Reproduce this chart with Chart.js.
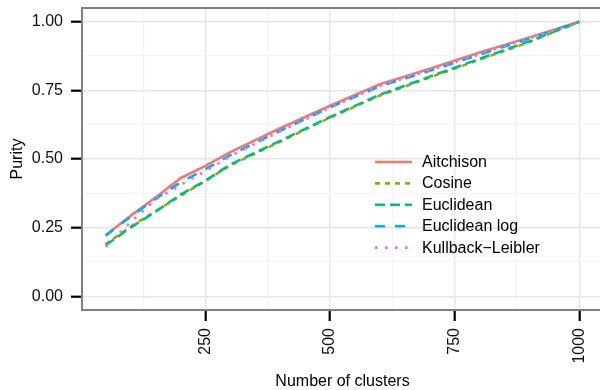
<!DOCTYPE html>
<html>
<head>
<meta charset="utf-8">
<script src="https://cdn.jsdelivr.net/npm/chart.js@4/dist/chart.umd.min.js"></script>
<style>
  html, body { margin: 0; padding: 0; background: #fff; overflow: hidden; width: 600px; height: 390px; }
  canvas { display: block; }
</style>
</head>
<body>
<canvas id="chart" width="604" height="390"></canvas>
<script>
// data
const clusters = [50, 100, 150, 200, 250, 300, 400, 500, 600, 700, 800, 900, 1000];
const aitchison = [0.222, 0.293, 0.360, 0.430, 0.475, 0.525, 0.612, 0.694, 0.772, 0.829, 0.888, 0.943, 1.0];
const cosine = [0.190, 0.254, 0.310, 0.366, 0.420, 0.477, 0.563, 0.651, 0.731, 0.797, 0.862, 0.926, 1.0];
const euclidean = [0.186, 0.250, 0.308, 0.370, 0.421, 0.480, 0.566, 0.653, 0.734, 0.800, 0.865, 0.929, 1.0];
const euclidean_log = [0.221, 0.290, 0.355, 0.415, 0.463, 0.514, 0.603, 0.688, 0.765, 0.821, 0.880, 0.939, 1.0];
const kullback_leibler = [0.180, 0.270, 0.352, 0.405, 0.456, 0.510, 0.601, 0.687, 0.767, 0.823, 0.882, 0.940, 1.0];

const x_ticks = [250, 500, 750, 1000];
const x_minor = [125, 375, 625, 875];
const y_ticks = [0, 0.25, 0.5, 0.75, 1];
const y_minor = [0.125, 0.375, 0.625, 0.875];

const font_family = "'Liberation Sans', Arial, sans-serif";
const line_w = 2.6;

const series = [
    { label: "Aitchison", values: aitchison, color: "#F8766D", dash: [] },
    { label: "Cosine", values: cosine, color: "#A3A500", dash: [5, 5] },
    { label: "Euclidean", values: euclidean, color: "#00BF7D", dash: [10, 5] },
    { label: "Euclidean log", values: euclidean_log, color: "#00B0F6", dash: [10, 10] },
    { label: "Kullback\u2212Leibler", values: kullback_leibler, color: "#E76BF3", dash: [2.6, 7.4] }
];

const datasets = series.map((s, i) => ({
    label: s.label,
    data: clusters.map((c, j) => ({ x: c, y: s.values[j] })),
    borderColor: s.color,
    borderWidth: line_w,
    borderDash: s.dash,
    borderCapStyle: "butt",
    pointRadius: 0,
    tension: 0,
    fill: false,
    order: series.length - i
}));

const is_major_x = (v) => x_ticks.includes(v);
const is_major_y = (v) => y_ticks.some((t) => Math.abs(t - v) < 1e-9);

// top border of the panel and the legend inside it
const panel_extras = {
    id: "panel_extras",
    afterDraw(chart) {
        const ctx = chart.ctx;
        const area = chart.chartArea;
        ctx.save();
        ctx.strokeStyle = "#808080";
        ctx.lineWidth = 2;
        ctx.beginPath();
        ctx.moveTo(area.left - 1, area.top);
        ctx.lineTo(area.right + 2, area.top);
        ctx.stroke();

        const lx = 375, lw = 37, tx = 422, ly = 162, step = 21.4;
        ctx.font = "16px " + font_family;
        ctx.textBaseline = "middle";
        ctx.fillStyle = "#000";
        series.forEach((s, i) => {
            const y = ly + i * step;
            ctx.strokeStyle = s.color;
            ctx.lineWidth = line_w;
            ctx.lineCap = "butt";
            ctx.setLineDash(s.dash);
            ctx.beginPath();
            ctx.moveTo(lx, y);
            ctx.lineTo(lx + lw, y);
            ctx.stroke();
            ctx.setLineDash([]);
            ctx.fillText(s.label, tx, y + 0.5);
        });
        ctx.restore();
    }
};

const no_padding = (scale) => {
    scale.paddingTop = 0;
    scale.paddingBottom = 0;
    scale.paddingLeft = 0;
    scale.paddingRight = 0;
};

new Chart(document.getElementById("chart"), {
    type: "line",
    data: { datasets: datasets },
    plugins: [panel_extras],
    options: {
        responsive: false,
        animation: false,
        layout: { padding: { left: 0, top: 8, right: 1, bottom: 0 } },
        plugins: { legend: { display: false }, tooltip: { enabled: false } },
        scales: {
            x: {
                type: "linear",
                min: 2.5,
                max: 1047.5,
                afterFit: (scale) => { scale.height = 80; no_padding(scale); },
                afterBuildTicks: (scale) => {
                    scale.ticks = x_minor.concat(x_ticks).sort((a, b) => a - b).map((v) => ({ value: v }));
                },
                ticks: {
                    autoSkip: false,
                    minRotation: 90,
                    maxRotation: 90,
                    padding: 7,
                    color: "#111",
                    font: { family: font_family, size: 16 },
                    callback: (v) => (is_major_x(v) ? String(v) : "")
                },
                grid: {
                    color: (c) => (is_major_x(c.tick.value) ? "#E6E6E6" : "#F4F4F4"),
                    lineWidth: (c) => (is_major_x(c.tick.value) ? 1.4 : 1.1),
                    tickColor: (c) => (is_major_x(c.tick.value) ? "#000" : "rgba(0,0,0,0)"),
                    tickWidth: 2.2,
                    tickLength: 11
                },
                border: { color: "#808080", width: 2 },
                title: {
                    display: true,
                    text: "Number of clusters",
                    color: "#000",
                    font: { family: font_family, size: 16, lineHeight: 1 },
                    padding: { top: 0, bottom: 0 }
                }
            },
            y: {
                type: "linear",
                min: -0.05,
                max: 1.05,
                afterFit: (scale) => { scale.width = 82; no_padding(scale); },
                afterBuildTicks: (scale) => {
                    scale.ticks = y_ticks.concat(y_minor).sort((a, b) => a - b).map((v) => ({ value: v }));
                },
                ticks: {
                    autoSkip: false,
                    padding: 8,
                    color: "#111",
                    font: { family: font_family, size: 16 },
                    callback: (v) => (is_major_y(v) ? v.toFixed(2) : "")
                },
                grid: {
                    color: (c) => (is_major_y(c.tick.value) ? "#E6E6E6" : "#F4F4F4"),
                    lineWidth: (c) => (is_major_y(c.tick.value) ? 1.4 : 1.1),
                    tickColor: (c) => (is_major_y(c.tick.value) ? "#000" : "rgba(0,0,0,0)"),
                    tickWidth: 2.2,
                    tickLength: 11
                },
                border: { color: "#808080", width: 2 },
                title: {
                    display: true,
                    text: "Purity",
                    color: "#000",
                    font: { family: font_family, size: 16, lineHeight: 1 },
                    padding: { top: 10, bottom: 0 }
                }
            }
        }
    }
});
</script>
</body>
</html>
